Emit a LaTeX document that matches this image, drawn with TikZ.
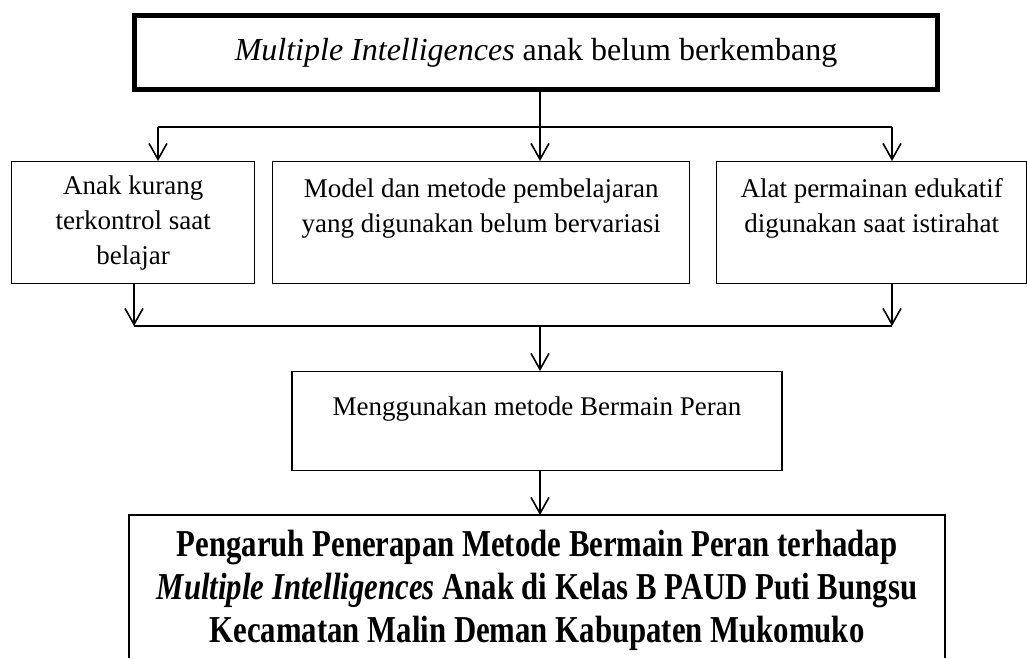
\documentclass[tikz,border=0pt]{standalone}
\usepackage{fontspec}
\setmainfont{Liberation Serif}
\newfontfamily\condfont[FakeStretch=0.81]{Liberation Serif}
\usetikzlibrary{arrows.meta, positioning}
\tikzset{
  topbox/.style={draw=black, line width=2.5pt, inner sep=0pt,
                 minimum width=401.5pt, minimum height=37pt,
                 font=\fontsize{16}{19}\selectfont},
  probbox/.style={draw=black, line width=0.7pt, inner sep=0pt,
                  anchor=north west, minimum height=61pt, align=center,
                  font=\fontsize{13.5}{17.5}\selectfont},
  methodbox/.style={draw=black, line width=0.7pt, inner sep=0pt,
                    anchor=north, minimum width=245pt, minimum height=49.5pt,
                    align=center, font=\fontsize{13.5}{17.5}\selectfont},
  titlebox/.style={inner xsep=0pt, inner ysep=7.5pt, anchor=north,
                   minimum width=407.5pt, align=center,
                   font=\condfont\bfseries\fontsize{19}{21.5}\selectfont},
  link/.style={draw=black, line width=0.8pt},
  arr/.style={draw=black, line width=0.8pt,
              -{Straight Barb[length=8pt, width=9pt]}},
}
\begin{document}
\begin{tikzpicture}[x=0.5pt, y=-0.5pt]
    \useasboundingbox (0,0) rectangle (1027,658);
    \coordinate (pagebottom) at (0,658);
    %% Main problem
    \node[topbox] (cause) at (536,52.5)
      {\textit{Multiple Intelligences} anak belum berkembang};
    %% Three problems
    \node[probbox, minimum width=121.5pt] (kontrol) at (11,161)
      {Anak kurang\\ terkontrol saat\\ belajar};
    \node[probbox, minimum width=208.5pt] (model) at (272,161)
      {Model dan metode pembelajaran\\ yang digunakan belum bervariasi\\ \mbox{}};
    \node[probbox, minimum width=155pt] (alat) at (716,161)
      {Alat permainan edukatif\\ digunakan saat istirahat\\ \mbox{}};
    %% Solution
    \node[methodbox] (method) at (537,371)
      {Menggunakan metode Bermain Peran\\[-2pt] \mbox{}};
    %% Research title (box runs off the page)
    \node[titlebox] (result) at (537,515)
      {Pengaruh Penerapan Metode Bermain Peran terhadap\\
       \textit{Multiple Intelligences} Anak di Kelas B PAUD Puti Bungsu\\
       Kecamatan Malin Deman Kabupaten Mukomuko};
    \draw[link] (result.north west |- pagebottom) -- (result.north west)
      -- (result.north east) -- (result.north east |- pagebottom);
    %% Branching down
    \coordinate (split) at (540,127);
    \coordinate (splitL) at (158,127);
    \coordinate (splitR) at (892,127);
    \draw[link] (splitL) -- (splitR);
    \draw[arr] (cause.south -| split) -- (split |- model.north);
    \draw[arr] (splitL) -- (splitL |- kontrol.north);
    \draw[arr] (splitR) -- (splitR |- alat.north);
    %% Joining
    \coordinate (join) at (540,326);
    \coordinate (joinL) at (134,326);
    \coordinate (joinR) at (892,326);
    \draw[arr] (kontrol.south -| joinL) -- (joinL);
    \draw[arr] (alat.south -| joinR) -- (joinR);
    \draw[link] (joinL) -- (joinR);
    \draw[arr] (join) -- (join |- method.north);
    \draw[arr] (method.south -| join) -- (join |- result.north);
  \end{tikzpicture}
\end{document}
